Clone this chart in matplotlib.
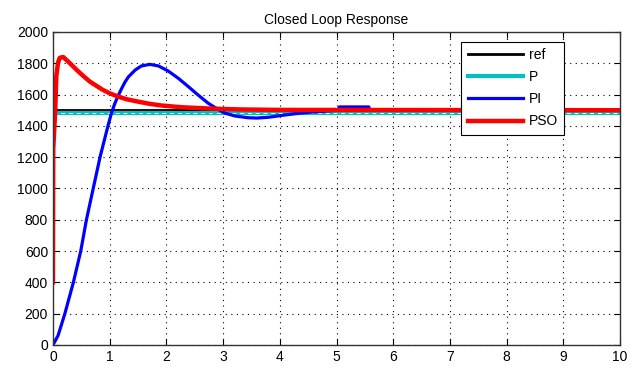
import matplotlib.pyplot as plt
import numpy as np

plt.rcParams['font.family'] = ['Liberation Sans', 'DejaVu Sans']

# reference and P controller (flat levels)
t_ref = [0, 10]
y_ref = [1500, 1500]
t_p = [0, 10]
y_p = [1480, 1480]

# PI controller response
t_pi = [0, 0.09, 0.21, 0.36, 0.49, 0.59, 0.71, 0.83, 0.97, 1.03, 1.09, 1.15,
         1.21, 1.27, 1.33, 1.45, 1.56, 1.71, 1.86, 2.03, 2.21, 2.39, 2.56, 2.74,
         2.89, 3.03, 3.21, 3.44, 3.60, 3.80, 4.06, 4.30, 4.53, 4.80, 5.04,
         5.05, 5.57, 5.58, 6.0, 7.0, 8.0, 9.0, 10.0]
y_pi = [0, 60, 200, 400, 600, 800, 1000, 1200, 1400, 1480, 1542, 1593,
        1638, 1680, 1713, 1757, 1783, 1793, 1783, 1751, 1704, 1650, 1597, 1544,
        1510, 1482, 1463, 1452, 1450, 1455, 1468, 1479, 1487, 1494, 1500,
        1521, 1521, 1500, 1500, 1500, 1500, 1500, 1500]

# PSO tuned response
t_pso = [0, 0.005, 0.04, 0.06, 0.09, 0.12, 0.18, 0.30, 0.42, 0.535, 0.65, 0.77,
         0.88, 1.0, 1.15, 1.3, 1.5, 1.7, 1.92, 2.27, 2.8, 3.3, 4.0, 10]
y_pso = [400, 1250, 1500, 1720, 1805, 1835, 1840, 1800, 1757, 1719, 1683, 1655,
         1630, 1608, 1587, 1570, 1555, 1541, 1530, 1519, 1510, 1505, 1502, 1500]

fig = plt.figure(figsize=(6.38, 3.7), dpi=100)
ax = fig.add_axes([0.083, 0.0676, 0.889, 0.846])

ax.plot(t_ref, y_ref, color='black', lw=2.0, label='ref')
ax.plot(t_p, y_p, color='#00c0c0', lw=3.0, label='P')
ax.plot(t_p, y_p, color='white', lw=0.7, ls=(0, (4, 4)))
ax.plot(t_pi, y_pi, color='blue', lw=2.3, label='PI')
ax.plot(t_pso, y_pso, color='red', lw=3.2, label='PSO')

ax.set_xlim(0, 10)
ax.set_ylim(0, 2000)
ax.set_xticks(np.arange(0, 11, 1))
ax.set_yticks(np.arange(0, 2001, 200))
ax.grid(True, color='black', ls=(0, (1, 4)), lw=0.8)
ax.tick_params(direction='in', top=True, right=True, length=4, labelsize=10)
for s in ax.spines.values():
    s.set_linewidth(1)
    s.set_color('#333333')
ax.set_title('Closed Loop Response', fontsize=10, pad=6)

handles, labels = ax.get_legend_handles_labels()
leg = ax.legend(handles, labels, loc='upper left', bbox_to_anchor=(0.72, 0.968),
                borderaxespad=0, fancybox=False, edgecolor='black', framealpha=1,
                fontsize=10, handlelength=4, labelspacing=0.58, borderpad=0.45,
                handletextpad=0.4)
leg.get_frame().set_linewidth(0.8)

plt.savefig('out.png', dpi=100)
